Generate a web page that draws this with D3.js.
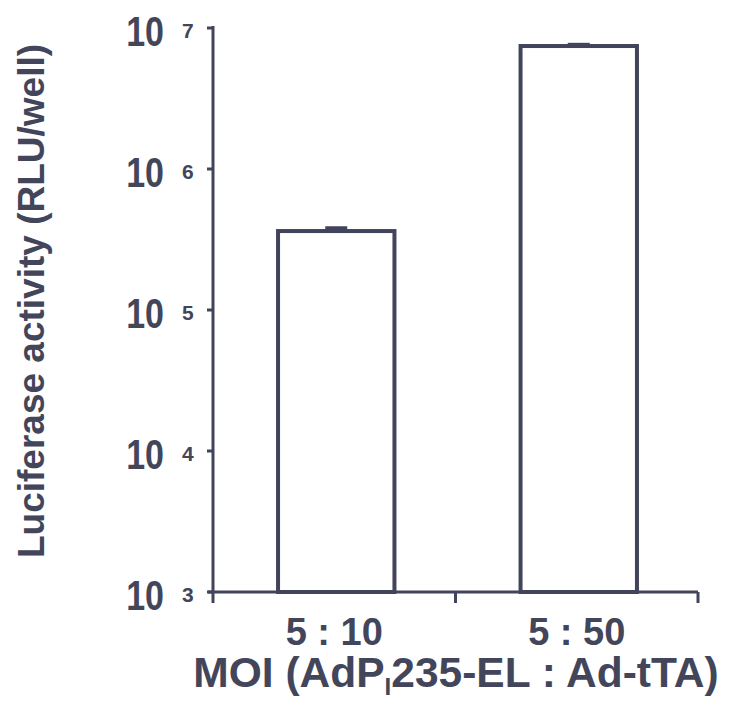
<!DOCTYPE html>
<html>
<head>
<meta charset="utf-8">
<script src="https://cdn.jsdelivr.net/npm/d3@7"></script>
<style>
body { margin: 0; background: #fff; }
text { font-family: "Liberation Sans", Arial, sans-serif; font-weight: bold; fill: #43465a; }
</style>
</head>
<body>
<svg id="chart" width="730" height="712"></svg>
<script>
var categories = ["5 : 10", "5 : 50"];
var values = [3.63e5, 7.45e6];
var errors = [0.17e5, 0.15e6];
var yTicks = [1e3, 1e4, 1e5, 1e6, 1e7];

var ink = "#41445a";
var svg = d3.select("#chart");

var x = d3.scaleBand().domain(categories).range([213, 698]);
var y = d3.scaleLog().domain([1e3, 1e7]).range([592, 28]);
var barW = x.bandwidth() * 0.48;

// bars
svg.selectAll("rect.bar").data(values)
	.enter()
	.append("rect")
	.attr("class", "bar")
	.attr("x", function(d, i) { return x(categories[i]) + x.bandwidth() / 2 + 2 - barW / 2; })
	.attr("y", function(d) { return y(d); })
	.attr("width", barW)
	.attr("height", function(d) { return y(1e3) - y(d); })
	.attr("fill", "#fff")
	.attr("stroke", ink)
	.attr("stroke-width", 4);

// error caps
svg.selectAll("line.err").data(values)
	.enter()
	.append("line")
	.attr("class", "err")
	.attr("x1", function(d, i) { return x(categories[i]) + x.bandwidth() / 2 + 2 - 11; })
	.attr("x2", function(d, i) { return x(categories[i]) + x.bandwidth() / 2 + 2 + 11; })
	.attr("y1", function(d, i) { return y(d + errors[i]); })
	.attr("y2", function(d, i) { return y(d + errors[i]); })
	.attr("stroke", ink)
	.attr("stroke-width", 4);

// y axis
svg.append("line")
	.attr("x1", 213).attr("x2", 213)
	.attr("y1", y(1e7) - 2).attr("y2", y(1e3))
	.attr("stroke", ink).attr("stroke-width", 3);
svg.selectAll("line.ytick").data(yTicks)
	.enter()
	.append("line")
	.attr("class", "ytick")
	.attr("x1", 207).attr("x2", 213)
	.attr("y1", function(d) { return y(d); })
	.attr("y2", function(d) { return y(d); })
	.attr("stroke", ink).attr("stroke-width", 3);

var lab = svg.selectAll("g.ylab").data(yTicks)
	.enter()
	.append("g")
	.attr("class", "ylab")
	.attr("transform", function(d) { return "translate(164," + (y(d) + 3) + ")"; });
lab.append("text")
	.attr("text-anchor", "end")
	.attr("font-size", 34)
	.attr("transform", "scale(1,1.25)")
	.attr("y", 12)
	.text("10");
lab.append("text")
	.attr("x", 18)
	.attr("y", 7)
	.attr("font-size", 21)
	.text(function(d) { return Math.round(Math.log10(d)); });

// x axis
svg.append("line")
	.attr("x1", 208).attr("x2", 698)
	.attr("y1", 592).attr("y2", 592)
	.attr("stroke", ink).attr("stroke-width", 3);
var edges = [x(categories[0]), x(categories[1]), x(categories[1]) + x.bandwidth()];
svg.selectAll("line.xtick").data(edges)
	.enter()
	.append("line")
	.attr("class", "xtick")
	.attr("x1", function(d) { return d; })
	.attr("x2", function(d) { return d; })
	.attr("y1", 592).attr("y2", 603)
	.attr("stroke", ink).attr("stroke-width", 3);

svg.selectAll("text.xlab").data(categories)
	.enter()
	.append("text")
	.attr("class", "xlab")
	.attr("x", function(d) { return x(d) + x.bandwidth() / 2; })
	.attr("y", 645)
	.attr("text-anchor", "middle")
	.attr("font-size", 38)
	.text(function(d) { return d; });

// axis titles
var xt = svg.append("text")
	.attr("x", 456)
	.attr("y", 687)
	.attr("text-anchor", "middle")
	.attr("font-size", 42.5);
xt.append("tspan").text("MOI (AdP");
xt.append("tspan").attr("font-size", 24).attr("dy", 8).text("I");
xt.append("tspan").attr("dy", -8).text("235-EL : Ad-tTA)");

svg.append("text")
	.attr("transform", "translate(44,301) rotate(-90)")
	.attr("text-anchor", "middle")
	.attr("font-size", 37)
	.text("Luciferase activity (RLU/well)");
</script>
</body>
</html>
